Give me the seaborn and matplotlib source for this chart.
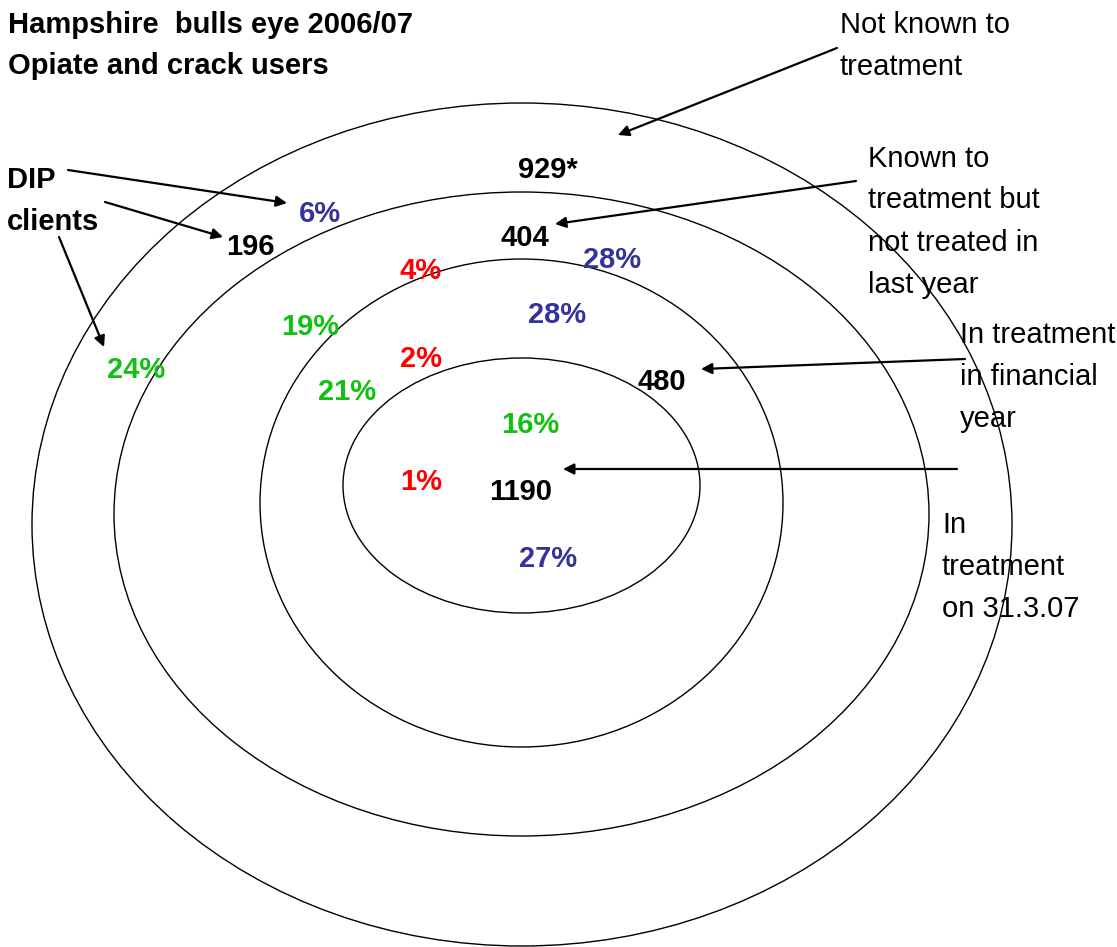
import numpy as np
import pandas as pd
import matplotlib
matplotlib.use("Agg")
import matplotlib.pyplot as plt
from matplotlib.patches import Ellipse
import seaborn as sns

# ring data (inner -> outer)
ring_names = ["In treatment on 31.3.07", "In treatment in financial year",
              "Known to treatment but not treated in last year", "Not known to treatment"]
ring_counts = ["1190", "480", "404", "929*"]
dip_count = "196"

# percentage labels by colour group
green_pcts = ["24%", "19%", "21%", "16%"]
red_pcts = ["4%", "2%", "1%"]
blue_pcts = ["6%", "28%", "28%", "27%"]

# layout (pixel coordinates, origin top-left)
ring_cx = [521.5, 521.5, 521.5, 522]
ring_cy = [485.5, 503, 514, 524.5]
ring_w = [357, 523, 815, 980]
ring_h = [255, 488, 644, 843]

count_pos = [(521, 500), (662, 390), (525, 246), (548, 178)]
dip_pos = (250, 255)
green_pos = [(136, 378), (310, 335), (347, 400), (530, 433)]
red_pos = [(421, 279), (421, 367), (421, 490)]
blue_pos = [(320, 222), (612, 268), (557, 323), (548, 567)]

COL_GREEN = "#11c011"
COL_RED = "#ff0000"
COL_BLUE = "#333399"

sns.set_theme(style="white")
plt.rcParams['font.family'] = ['Liberation Sans', 'DejaVu Sans']

fig = plt.figure(figsize=(11.17, 9.47), dpi=100)
ax = fig.add_axes([0, 0, 1, 1])

rings = pd.DataFrame({"ring": ring_names, "cx": ring_cx, "cy": ring_cy,
                      "w": ring_w, "h": ring_h})
for _, r in rings.iterrows():
    ax.add_patch(Ellipse((r.cx, r.cy), r.w, r.h, fill=False,
                         edgecolor="black", lw=1.0))

ax.set_xlim(0, 1117)
ax.set_ylim(947, 0)
ax.axis("off")

FS = 21
bold = dict(fontsize=FS, fontweight="bold", ha="center", va="baseline")

for txt, (x, y) in zip(ring_counts, count_pos):
    ax.text(x, y, txt, color="black", **bold)
ax.text(dip_pos[0], dip_pos[1], dip_count, color="black", **bold)
for txt, (x, y) in zip(green_pcts, green_pos):
    ax.text(x, y, txt, color=COL_GREEN, **bold)
for txt, (x, y) in zip(red_pcts, red_pos):
    ax.text(x, y, txt, color=COL_RED, **bold)
for txt, (x, y) in zip(blue_pcts, blue_pos):
    ax.text(x, y, txt, color=COL_BLUE, **bold)

# title + DIP label
left_bold = dict(fontsize=FS, fontweight="bold", ha="left", va="baseline", color="black")
ax.text(8, 33, "Hampshire  bulls eye 2006/07", **left_bold)
ax.text(8, 74, "Opiate and crack users", **left_bold)
ax.text(7, 188, "DIP", **left_bold)
ax.text(7, 230, "clients", **left_bold)

# ring descriptions on the right
desc_lines = [
    (840, [33, 75], ["Not known to", "treatment"]),
    (868, [167, 208, 251, 293], ["Known to", "treatment but", "not treated in", "last year"]),
    (960, [343, 385, 427], ["In treatment", "in financial", "year"]),
    (942, [533, 575, 617], ["In", "treatment", "on 31.3.07"]),
]
for x, ys, lines in desc_lines:
    for y, line in zip(ys, lines):
        ax.text(x, y, line, fontsize=FS, ha="left", va="baseline", color="black")

# arrows: (start, tip)
arrows = [
    ((837, 48), (618, 135)),
    ((856, 181), (555, 224)),
    ((965, 359), (701, 369)),
    ((957, 469), (563, 469)),
    ((68, 170), (287, 203)),
    ((105, 202), (223, 237)),
    ((59, 237), (104, 347)),
]
for start, tip in arrows:
    ax.annotate("", xy=tip, xytext=start,
                arrowprops=dict(arrowstyle="-|>", color="black", lw=1.6,
                                mutation_scale=16, shrinkA=0, shrinkB=0))

fig.savefig("out.png", dpi=100, facecolor="white")
